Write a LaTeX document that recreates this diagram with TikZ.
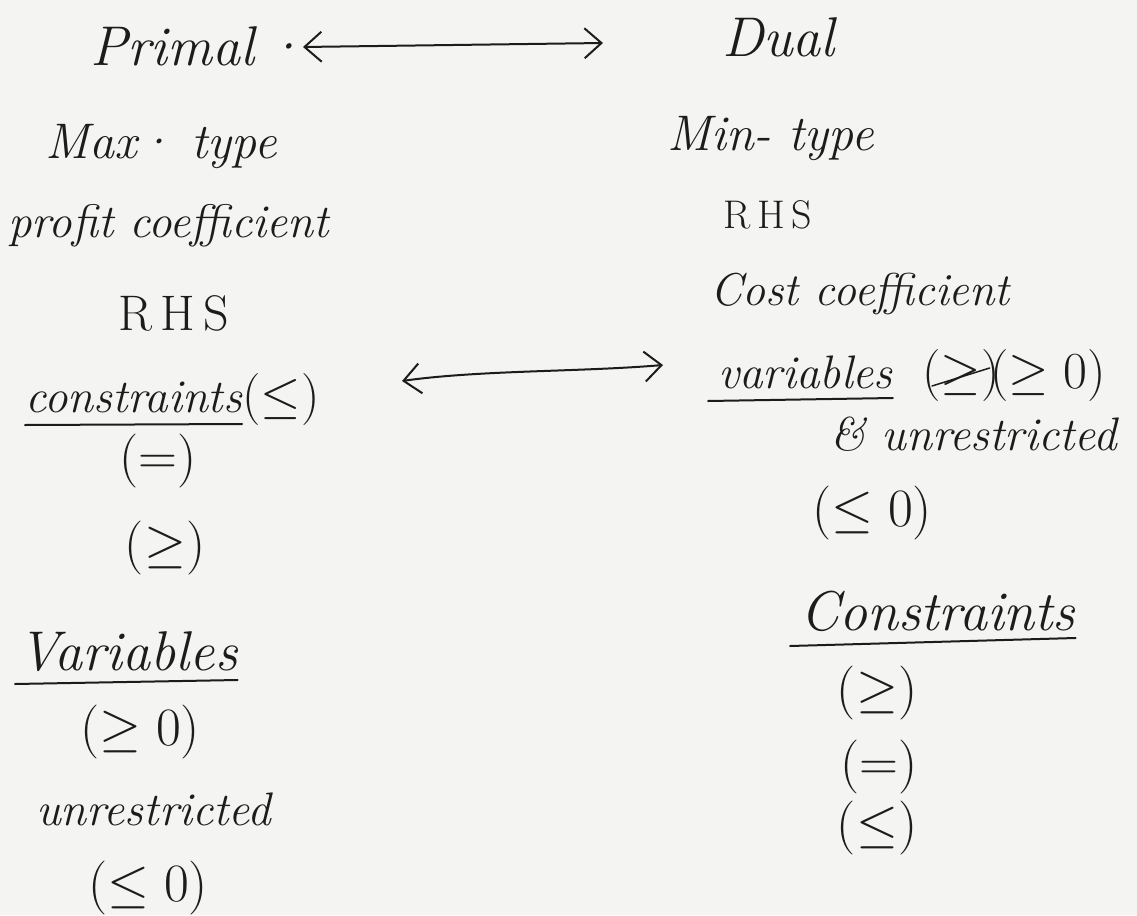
\RequirePackage{fix-cm}
\documentclass[tikz,border=0pt]{standalone}
\usepackage{fontspec}
\setmainfont{Latin Modern Roman}
\usetikzlibrary{arrows.meta}
\definecolor{ink}{HTML}{1C1C1C}
\definecolor{paper}{HTML}{F4F4F2}
\begin{document}
\begin{tikzpicture}[x=1pt,y=-1pt,
  hw/.style={text=ink, inner sep=0pt, anchor=base west, font=\fontsize{47}{52}\selectfont\itshape},
  mid/.style={font=\fontsize{50}{56}\selectfont\itshape},
  big/.style={font=\fontsize{56}{62}\selectfont\itshape},
  up/.style={font=\fontsize{52}{58}\selectfont},
  sym/.style={text=ink, inner sep=0pt, anchor=center, font=\fontsize{54}{60}\selectfont},
  pen/.style={draw=ink, line width=2pt, line cap=round},
  conn/.style={pen, {Straight Barb[length=17pt,width=30pt]}-{Straight Barb[length=17pt,width=30pt]}}]
\fill[paper] (0,0) rectangle (1137,915);
\useasboundingbox (0,0) rectangle (1137,915);

% header
\node[hw,big] (primal) at (90,66) {Primal\,·};
\node[hw,big] (dual) at (722,57) {Dual};
\coordinate (a1l) at (303,47);
\coordinate (a1r) at (603,43);
\draw[conn] (a1l) -- (a1r);

% rows
\node[hw,mid] (max) at (45,158) {Max· type};
\node[hw,mid] (min) at (667,150) {Min- type};
\node[hw] (profit) at (8,237) {profit coefficient};
\node[hw,font=\fontsize{40}{46}\selectfont] (rhsR) at (723,228) {R\,H\,S};
\node[hw,font=\fontsize{50}{56}\selectfont] (rhsL) at (118,330) {R\,H\,S};
\node[hw,font=\fontsize{46}{52}\selectfont\itshape] (cost) at (710,305) {Cost coefficient};

% constraints <-> variables
\node[hw] (cons) at (25,412) {constraints};
\node[hw,up] (consle) at (cons.base east) {($\leq$)};
\draw[pen] ([yshift=-13pt]cons.base west) -- ([yshift=-12pt]cons.base east);
\node[hw] (vars) at (718,388) {variables};
\draw[pen] ([yshift=-13pt,xshift=-10pt]vars.base west) -- ([yshift=-10pt]vars.base east);
\node[hw,up] (varsx) at (922,388) {($\geq$)};
\draw[pen,line width=1.5pt] ([xshift=10pt,yshift=2pt]varsx.base west) -- ([xshift=-10pt,yshift=20pt]varsx.base east);
\node[hw,up] (varsge) at (990,388) {($\geq 0$)};
\coordinate (a2l) at (402,381);
\coordinate (a2r) at (663,365);
\draw[conn] (a2l) .. controls (480,370) and (580,372) .. (a2r);

\node[hw] (unr) at (830,450) {\& unrestricted};

% left column
\node[sym] (leq) at (158,461) {($=$)};
\node[sym] (lge) at (165,548) {($\geq$)};
\node[hw,big] (lvars) at (18,670) {Variables};
\draw[pen] ([yshift=-14pt,xshift=-3pt]lvars.base west) -- ([yshift=-10pt]lvars.base east);
\node[sym] (lge0) at (140,732) {($\geq 0$)};
\node[hw] (lunr) at (36,825) {unrestricted};
\node[sym] (lle0) at (148,888) {($\leq 0$)};

% right column
\node[sym] (rle0) at (872,513) {($\leq 0$)};
\node[hw,big] (rcons) at (800,630) {Constraints};
\draw[pen] ([yshift=-16pt,xshift=-10pt]rcons.base west) -- ([yshift=-8pt]rcons.base east);
\node[sym] (rge) at (877,693) {($\geq$)};
\node[sym] (req) at (879,767) {($=$)};
\node[sym] (rle) at (877,828) {($\leq$)};
\end{tikzpicture}
\end{document}
